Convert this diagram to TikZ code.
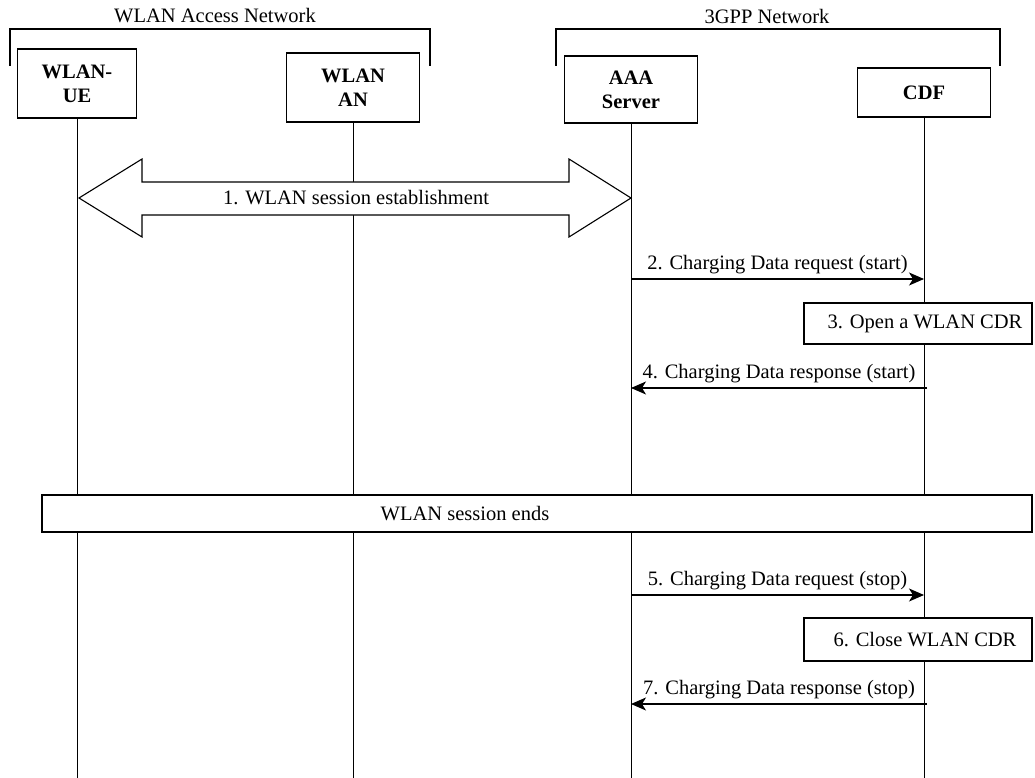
\documentclass[tikz,border=0pt]{standalone}
\usepackage{fontspec}
\setmainfont{Liberation Serif}
\usetikzlibrary{arrows.meta}
\begin{document}
\begin{tikzpicture}[x=1pt,y=-1pt,
  txt/.style={font=\fontsize{20.5}{24}\selectfont},
  entity/.style={draw, line width=1.1pt, fill=white, font=\fontsize{20.5}{24}\selectfont\bfseries, align=center, inner sep=0pt},
  stepbox/.style={draw, line width=1.1pt, fill=white, inner sep=0pt, font=\fontsize{20.5}{24}\selectfont},
  lifeline/.style={line width=1pt},
  msg/.style={line width=1.1pt, -{Stealth[length=15pt,width=13pt,inset=4pt]}},
  msglabel/.style={txt, above=3pt, inner sep=2pt},
  bracket/.style={line width=1.1pt}]
\useasboundingbox (0,0) rectangle (1035,778);

% network brackets
\coordinate (wl1) at (10,66); \coordinate (wl2) at (10,29);
\coordinate (wl3) at (430,29); \coordinate (wl4) at (430,66);
\draw[bracket] (wl1) -- (wl2) -- (wl3) -- (wl4);
\node[txt, inner sep=0pt] (wlanan) at (215,16) {WLAN Access Network};
\coordinate (gp1) at (556,66); \coordinate (gp2) at (556,29);
\coordinate (gp3) at (1000,29); \coordinate (gp4) at (1000,66);
\draw[bracket] (gp1) -- (gp2) -- (gp3) -- (gp4);
\node[txt, inner sep=0pt] (gppnet) at (767,16) {3GPP Network};

% entities
\node[entity, minimum width=119pt, minimum height=69pt] (ue) at (77,83.5) {WLAN-\\UE};
\node[entity, minimum width=133pt, minimum height=69pt] (an) at (353,87.5) {WLAN\\AN};
\node[entity, minimum width=133pt, minimum height=67pt] (aaa) at (631,89.5) {AAA\\Server};
\node[entity, minimum width=133pt, minimum height=49pt] (cdf) at (924,92.5) {CDF};

% lifelines
\coordinate (bottom) at (0,778);
\foreach \n in {ue,an,aaa,cdf}{
  \draw[lifeline] (\n.south) -- (\n.south |- bottom);
}

% 1. WLAN session establishment (double arrow)
\coordinate (da1) at (79,198);
\coordinate (da2) at (142,159);
\coordinate (da3) at (142,182);
\coordinate (da4) at (569,182);
\coordinate (da5) at (569,159);
\coordinate (da6) at (631,198);
\coordinate (da7) at (569,237);
\coordinate (da8) at (569,215);
\coordinate (da9) at (142,215);
\coordinate (da10) at (142,237);
\draw[line width=1.1pt, fill=white, line join=miter]
  (da1) -- (da2) -- (da3) -- (da4) -- (da5) -- (da6) -- (da7) -- (da8) -- (da9) -- (da10) -- cycle;
\node[txt, inner sep=0pt] (m1) at (356,198) {1. WLAN session establishment};

% message rows
\coordinate (y2) at (0,279);
\coordinate (y4) at (0,388);
\coordinate (y5) at (0,595);
\coordinate (y7) at (0,704);

\draw[msg] (aaa |- y2) -- node[msglabel] (m2) {2. Charging Data request (start)} (cdf |- y2);
\node[stepbox, minimum width=228pt, minimum height=41pt] (m3) at (918,323.5) {\hspace*{14pt}3. Open a WLAN CDR};
\draw[msg] ([xshift=3pt]cdf.south |- y4) -- node[msglabel] (m4) {4. Charging Data response (start)} (aaa |- y4);

\node[stepbox, minimum width=990pt, minimum height=37pt] (ends) at (537,513.5) {WLAN session ends\hspace*{144pt}};

\draw[msg] (aaa |- y5) -- node[msglabel] (m5) {5. Charging Data request (stop)} (cdf |- y5);
\node[stepbox, minimum width=228pt, minimum height=43pt] (m6) at (918,639.5) {\hspace*{14pt}6. Close WLAN CDR};
\draw[msg] ([xshift=3pt]cdf.south |- y7) -- node[msglabel] (m7) {7. Charging Data response (stop)} (aaa |- y7);
\end{tikzpicture}
\end{document}
